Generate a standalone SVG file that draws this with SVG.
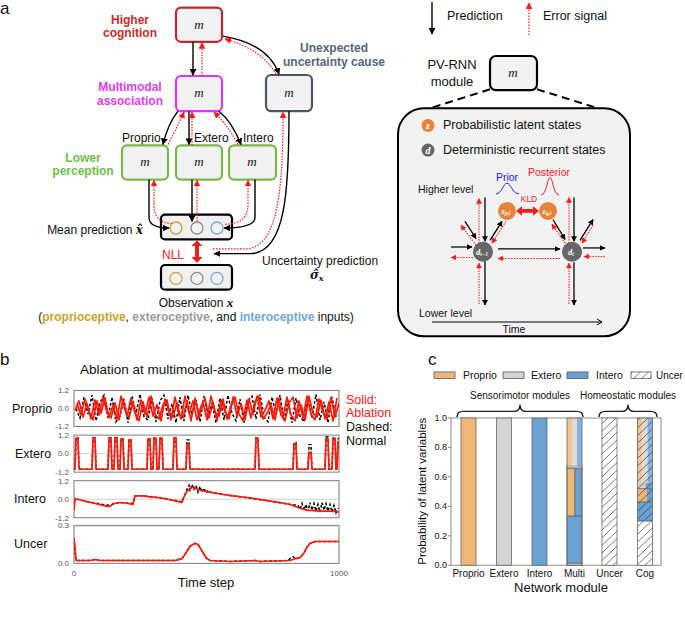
<svg xmlns="http://www.w3.org/2000/svg" width="685" height="624" viewBox="0 0 685 624">
<style>
text{font-family:"Liberation Sans",Arial,sans-serif;fill:#111}
.t12{font-size:12px}
.t11{font-size:10.5px}
.bold{font-weight:bold}
.m{font-family:"Liberation Serif","DejaVu Serif",serif;font-style:italic;font-size:13px;text-anchor:middle}
.mod{fill:#f2f2f2;stroke-width:2.2}
.pred{stroke:#000;stroke-width:1.4;fill:none;marker-end:url(#ah)}
.err{stroke:#ff1a1a;stroke-width:1.2;stroke-dasharray:1.6 1.4;fill:none;marker-end:url(#ahr)}
.preds{stroke:#000;stroke-width:1.3;fill:none;marker-end:url(#ahs)}
.errs{stroke:#ff1a1a;stroke-width:1.1;stroke-dasharray:1.5 1.3;fill:none;marker-end:url(#ahrs)}
.frame{fill:#fff;stroke:#777;stroke-width:1}
.zero{stroke:#d0d0d0;stroke-width:1}
.tick{font-size:8px;fill:#555;text-anchor:end}
.red{fill:none;stroke:#ff1a0a;stroke-width:1.7;stroke-linejoin:round}
.blk{fill:none;stroke:#000;stroke-width:1.5;stroke-dasharray:3 2}
.bar{stroke:#666;stroke-width:0.8}
.pro{fill:#f0b677}
.ext{fill:#d3d3d3}
.int{fill:#6aa1d3}
.hat{fill:url(#hatch)}
.wz{font-family:"Liberation Serif",serif;font-style:italic;font-weight:bold;fill:#fff;text-anchor:middle}
</style>
<defs>
<marker id="ah" viewBox="0 0 10 10" refX="9" refY="5" markerWidth="7" markerHeight="7" markerUnits="userSpaceOnUse" orient="auto"><path d="M0,0 L10,5 L0,10 z" fill="#000"/></marker>
<marker id="ahr" viewBox="0 0 10 10" refX="9" refY="5" markerWidth="7" markerHeight="7" markerUnits="userSpaceOnUse" orient="auto"><path d="M0,0 L10,5 L0,10 z" fill="#ff1a1a"/></marker>
<marker id="ahs" viewBox="0 0 10 10" refX="9" refY="5" markerWidth="6" markerHeight="6" markerUnits="userSpaceOnUse" orient="auto"><path d="M0,0 L10,5 L0,10 z" fill="#000"/></marker>
<marker id="ahrs" viewBox="0 0 10 10" refX="9" refY="5" markerWidth="6" markerHeight="6" markerUnits="userSpaceOnUse" orient="auto"><path d="M0,0 L10,5 L0,10 z" fill="#ff1a1a"/></marker>
<pattern id="hatch" patternUnits="userSpaceOnUse" width="8" height="8"><path d="M0,8 L8,0 M-2,2 L2,-2 M6,10 L10,6" stroke="#333" stroke-width="0.7"/></pattern>
<clipPath id="c1"><rect x="74" y="411" width="265" height="38"/></clipPath>
<clipPath id="c2"><rect x="74" y="458" width="265" height="39"/></clipPath>
<clipPath id="c3"><rect x="74" y="506" width="265" height="39"/></clipPath>
<clipPath id="c4"><rect x="74" y="553" width="265" height="40"/></clipPath>
</defs>
<rect width="685" height="624" fill="#fff"/>

<!-- ================= Panel a ================= -->
<text x="0" y="14" style="font-size:17px">a</text>
<text x="130" y="23.8" text-anchor="middle" class="t12 bold" style="fill:#cc2b2b">Higher</text>
<text x="130" y="37" text-anchor="middle" class="t12 bold" style="fill:#cc2b2b">cognition</text>
<text x="130" y="91.2" text-anchor="middle" class="t12 bold" style="fill:#e03cf0">Multimodal</text>
<text x="130" y="104.5" text-anchor="middle" class="t12 bold" style="fill:#e03cf0">association</text>
<text x="83" y="161.5" text-anchor="middle" class="t12 bold" style="fill:#6cc04a">Lower</text>
<text x="83" y="174.8" text-anchor="middle" class="t12 bold" style="fill:#6cc04a">perception</text>
<text x="334" y="52.3" text-anchor="middle" class="t12 bold" style="fill:#56657b">Unexpected</text>
<text x="334" y="65.6" text-anchor="middle" class="t12 bold" style="fill:#56657b">uncertainty cause</text>
<text x="122" y="141.6" class="t12">Proprio</text>
<text x="194" y="141.6" class="t12">Extero</text>
<text x="243" y="141.6" class="t12">Intero</text>

<g id="higher"><rect x="176" y="7.6" width="46" height="34.2" rx="5" class="mod" stroke="#c0282d"/><text x="199" y="28.5" class="m">m</text></g>
<g id="multi"><rect x="176" y="76" width="46" height="35.2" rx="5" class="mod" stroke="#dd33ff"/><text x="199" y="97.1" class="m">m</text></g>
<g id="uncert"><rect x="266" y="75" width="46" height="36.1" rx="5" class="mod" stroke="#4a5568"/><text x="289" y="96.6" class="m">m</text></g>
<g id="proprio"><rect x="122" y="145.4" width="46" height="34.2" rx="5" class="mod" stroke="#7ab648"/><text x="145" y="166" class="m">m</text></g>
<g id="extero"><rect x="176" y="145.4" width="46" height="34.2" rx="5" class="mod" stroke="#7ab648"/><text x="199" y="166" class="m">m</text></g>
<g id="intero"><rect x="229" y="145.4" width="47" height="34.2" rx="5" class="mod" stroke="#7ab648"/><text x="252" y="166" class="m">m</text></g>

<g id="meanpred">
<rect x="161" y="214.7" width="71" height="24.7" rx="4" fill="#f0f0f0" stroke="#000" stroke-width="2.2"/>
<circle cx="176" cy="228" r="6" fill="#f2f2f2" stroke="#c9a03a" stroke-width="1.3"/>
<circle cx="197" cy="228" r="6" fill="#f2f2f2" stroke="#8a8a8a" stroke-width="1.3"/>
<circle cx="217" cy="228" r="6" fill="#f2f2f2" stroke="#6fa8dc" stroke-width="1.3"/>
<text x="143" y="233.7" text-anchor="end" class="t12">Mean prediction <tspan style="font-family:'DejaVu Serif',serif;font-style:italic;font-weight:bold">x&#770;</tspan></text>
</g>
<g id="observation">
<rect x="161" y="265" width="71" height="24.7" rx="4" fill="#f0f0f0" stroke="#000" stroke-width="2.2"/>
<circle cx="176" cy="278.4" r="6" fill="#f2f2f2" stroke="#c9a03a" stroke-width="1.3"/>
<circle cx="197" cy="278.4" r="6" fill="#f2f2f2" stroke="#8a8a8a" stroke-width="1.3"/>
<circle cx="217" cy="278.4" r="6" fill="#f2f2f2" stroke="#6fa8dc" stroke-width="1.3"/>
<text x="196" y="306.9" text-anchor="middle" class="t12">Observation <tspan style="font-family:'Liberation Serif',serif;font-style:italic;font-weight:bold;font-size:13px">x</tspan></text>
<text x="196" y="321.1" text-anchor="middle" class="t12">(<tspan class="bold" style="fill:#c9a227">proprioceptive</tspan>, <tspan class="bold" style="fill:#9a9a9a">exteroceptive</tspan>, and <tspan class="bold" style="fill:#6ea6e0">interoceptive</tspan> inputs)</text>
</g>
<text x="184" y="259.4" text-anchor="end" class="t12" style="fill:#ff1a1a">NLL</text>
<path d="M197,240.5 L202.5,246 L199,246 L199,257 L202.5,257 L197,263 L191.5,257 L195,257 L195,246 L191.5,246 Z" fill="#ff1a1a"/>
<text x="262" y="265" class="t12">Uncertainty prediction</text>
<text x="310" y="279.3" style="font-family:'DejaVu Serif',serif;font-style:italic;font-weight:bold;font-size:12px">σ&#770;<tspan dy="2" style="font-size:8px">x</tspan></text>

<g id="connectors" transform="scale(1,0.95)">
<path class="pred" d="M193,44 L193,79"/>
<path class="err" d="M202,80 L202,45"/>
<path class="pred" d="M223,38 Q268,46 279,78"/>
<path class="err" d="M276,78 Q262,52 225,41"/>
<path class="pred" d="M178,117 Q168,130 163,152"/>
<path class="err" d="M168,152 Q177,134 184,118"/>
<path class="pred" d="M189,117 L189,152"/>
<path class="err" d="M192,153 L192,118"/>
<path class="pred" d="M219,117 Q232,128 241,152"/>
<path class="err" d="M238,152 Q228,132 214,118"/>
<path class="pred" d="M149,189 L149,229 Q149,240 169,240"/>
<path class="err" d="M172,235 Q154,235 154,215 L154,190"/>
<path class="pred" d="M192,189 L192,233"/>
<path class="err" d="M197,233 L197,190"/>
<path class="pred" d="M255,189 L255,229 Q255,240 224,240"/>
<path class="err" d="M225,236 Q248,236 248,215 L248,190"/>
<path class="pred" d="M289,117 C289,200 286,267 250,267 L214,267"/>
<path class="err" d="M213,262 L245,262 C278,262 283,200 283,118"/>
</g>

<!-- Legend -->
<path class="pred" d="M432,2 L432,34"/>
<text x="447" y="20" style="font-size:12.5px">Prediction</text>
<path class="err" d="M529,35 L529,3"/>
<text x="543" y="20" style="font-size:12.5px">Error signal</text>

<!-- PV-RNN module detail -->
<text x="452" y="69.4" text-anchor="middle" style="font-size:13px">PV-RNN</text>
<text x="452" y="85.5" text-anchor="middle" style="font-size:13px">module</text>
<path d="M490,89.3 L418,112 M537,89.3 L610,112" stroke="#000" stroke-width="2" stroke-dasharray="8 5" fill="none"/>
<rect x="398" y="108.3" width="232" height="228" rx="26" fill="#f2f2f2" stroke="#000" stroke-width="2"/>
<g id="pvmodule"><rect x="490" y="56" width="47" height="34.2" rx="6" class="mod" stroke="#000"/><text x="513" y="76.7" class="m">m</text></g>

<circle cx="428" cy="125.4" r="6.5" fill="#e8843a"/>
<text x="428" y="128.9" class="wz" style="font-size:10px">z</text>
<text x="443" y="129.2" style="font-size:12.5px">Probabilistic latent states</text>
<circle cx="428" cy="150.1" r="6.5" fill="#666"/>
<text x="428" y="153.6" class="wz" style="font-size:10px">d</text>
<text x="443" y="153.9" style="font-size:12.5px">Deterministic recurrent states</text>
<text x="507" y="180.5" text-anchor="middle" style="font-size:10.5px;fill:#1a1aff">Prior</text>
<text x="549" y="175.8" text-anchor="middle" style="font-size:10.5px;fill:#ff1a1a">Posterior</text>
<text x="418" y="192.9" style="font-size:10.5px">Higher level</text>
<text x="529" y="202.4" text-anchor="middle" style="font-size:8.5px;fill:#ff1a1a">KLD</text>

<g transform="scale(1,0.95)">
<path d="M496,204 C502,204 503,193 507,193 C511,193 512,204 519,204" fill="none" stroke="#1a1aff" stroke-width="1"/>
<path d="M541,205 C547,205 547,187 550,187 C553,187 553,205 559,205" fill="none" stroke="#ff1a1a" stroke-width="1"/>
<path d="M516,222 L522,217 L522,220 L533,220 L533,217 L539,222 L533,227 L533,224 L522,224 L522,227 Z" fill="#ff1a1a"/>
</g>

<g id="zp"><circle cx="507" cy="210.9" r="9" fill="#e8843a"/><text x="506" y="213.9" class="wz" style="font-size:8px">z<tspan dy="1.5" style="font-size:5.5px">p,t</tspan></text></g>
<g id="zq"><circle cx="548" cy="210.9" r="9" fill="#e8843a"/><text x="547" y="213.9" class="wz" style="font-size:8px">z<tspan dy="1.5" style="font-size:5.5px">q,t</tspan></text></g>
<g id="dt1"><circle cx="483" cy="251.8" r="10" fill="#666"/><text x="482" y="254.8" class="wz" style="font-size:8.5px">d<tspan dy="1.5" style="font-size:5.5px">t−1</tspan></text></g>
<g id="dt"><circle cx="572" cy="251.8" r="10" fill="#666"/><text x="571" y="254.8" class="wz" style="font-size:8.5px">d<tspan dy="1.5" style="font-size:5.5px">t</tspan></text></g>

<g id="module-connectors" transform="scale(1,0.95)">
<path class="preds" d="M485,208 L485,254"/>
<path class="preds" d="M485,275 L485,321"/>
<path class="preds" d="M451,260 L472,260"/>
<path class="preds" d="M465,233 L476,251"/>
<path class="preds" d="M490,253 L502,233"/>
<path class="preds" d="M498,262 L560,262"/>
<path class="preds" d="M553,231 L565,252"/>
<path class="preds" d="M574,208 L574,254"/>
<path class="preds" d="M574,276 L574,321"/>
<path class="preds" d="M583,261 L605,261"/>
<path class="preds" d="M580,253 L593,231"/>
<path class="errs" d="M479,256 L479,209"/>
<path class="errs" d="M479,320 L479,277"/>
<path class="errs" d="M473,271 L451,271"/>
<path class="errs" d="M476,258 L461,237"/>
<path class="errs" d="M506,233 L492,256"/>
<path class="errs" d="M560,272 L498,272"/>
<path class="errs" d="M565,256 L552,236"/>
<path class="errs" d="M569,256 L569,208"/>
<path class="errs" d="M569,320 L569,277"/>
<path class="errs" d="M605,270 L584,270"/>
<path class="errs" d="M593,237 L582,256"/>
</g>
<text x="419" y="317.3" style="font-size:10.5px">Lower level</text>
<path d="M432,322 L602,322 M597,319 L602,322 L597,325" fill="none" stroke="#000" stroke-width="1"/>
<text x="514" y="332.5" text-anchor="middle" style="font-size:10.5px">Time</text>

<!-- ================= Panel b ================= -->
<text x="0" y="364.8" style="font-size:17px">b</text>
<text x="206" y="374.3" text-anchor="middle" style="font-size:13.5px">Ablation at multimodal-associative module</text>

<g transform="scale(1,0.95)">
<rect x="74" y="411" width="265" height="38" class="frame"/>
<rect x="74" y="458" width="265" height="39" class="frame"/>
<rect x="74" y="506" width="265" height="39" class="frame"/>
<rect x="74" y="553" width="265" height="40" class="frame"/>
<line x1="74" y1="430" x2="339" y2="430" class="zero"/>
<line x1="74" y1="477.5" x2="339" y2="477.5" class="zero"/>
<line x1="74" y1="525.5" x2="339" y2="525.5" class="zero"/>
<line x1="74" y1="554" x2="339" y2="554" class="zero"/>
<g clip-path="url(#c1)">
<polyline class="blk" points="76,430 80,440 84,418 88,436 92,416 96,443 100,424 104,416 108,440 112,418 116,444 120,438 124,420 128,445 132,417 136,435 140,415 144,439 148,442 152,419 156,444 160,422 164,416 168,441 172,425 176,445 180,418 184,443 188,416 192,437 196,421 200,444 204,417 208,440 212,424 216,445 220,419 224,442 228,416 232,435 236,443 240,420 244,445 248,422 252,417 256,441 260,415 264,439 268,444 272,418 276,436 280,416 284,443 288,421 292,445 296,419 300,438 304,444 308,417 312,440 316,415 320,442 324,423 328,445 332,418 336,439"/>
<polyline class="red" points="75,432 79,422 83,439 87,425 91,441 95,421 99,437 103,418 107,434 111,440 115,424 119,442 123,420 127,438 131,419 135,435 139,443 143,423 147,439 151,417 155,436 159,441 163,426 167,421 171,442 175,418 179,437 183,440 187,422 191,443 195,419 199,439 203,424 207,442 211,417 215,434 219,438 223,420 227,441 231,427 235,418 239,436 243,443 247,421 251,440 255,423 259,417 263,441 267,435 271,426 275,442 279,419 283,439 287,418 291,437 295,443 299,422 303,440 307,417 311,436 315,442 319,420 323,434 327,441 331,418 335,439 339,424"/>
<polyline class="red" points="77,425 81,437 85,420 89,433 93,442 97,422 101,435 105,419 109,439 113,427 117,441 121,417 125,432 129,440 133,423 137,442 141,421 145,436 149,418 153,438 157,426 161,443 165,420 169,434 173,439 177,424 181,441 185,417 189,435 193,422 197,442 201,428 205,419 209,440 213,423 217,443 221,421 225,433 229,441 233,418 237,438 241,425 245,442 249,420 253,436 257,417 261,439 265,432 269,422 273,441 277,419 281,437 285,443 289,424 293,418 297,440 301,426 305,442 309,417 313,435 317,439 321,421 325,441 329,423 333,443 337,419"/>
</g>
<g clip-path="url(#c2)">
<polyline class="blk" points="74,494 75,494 76,461 78,461 79,494 92,494 93,461 95,461 96,494 108,494 109,461 111,461 112,494 114,494 115,461 117,461 118,494 120,494 121,462 123,462 124,494 128,494 129,463 131,463 132,494 147,494 148,462 150,462 151,494 153,494 154,461 156,461 157,494 159,494 160,461 162,461 163,494 173,494 174,461 176,461 177,494 186,494 187,463 189,463 190,494 255,494 256,461 258,461 259,494 293,494 294,466 296,466 297,494 308,494 309,468 311,468 312,494 325,494 326,460 328,460 329,494 332,494 333,461 335,461 336,494 337,494 338,462 339,462"/>
<polyline class="red" points="74,494 75,494 76,461 78,461 79,494 92,494 93,461 95,461 96,494 108,494 109,461 111,461 112,494 114,494 115,461 117,461 118,494 120,494 121,462 123,462 124,494 128,494 129,463 131,463 132,494 147,494 148,462 150,462 151,494 153,494 154,461 156,461 157,494 159,494 160,461 162,461 163,494 173,494 174,461 176,461 177,494 186,494 187,468 189,468 190,494 255,494 256,461 258,461 259,494 293,494 294,468 296,468 297,494 308,494 309,476 311,476 312,494 325,494 326,462 328,462 329,494 332,494 333,461 335,461 336,494 337,494 338,465 339,465"/>
</g>
<g clip-path="url(#c3)">
<polyline class="blk" points="74,533 75,525 87,528 103,531 110,532 115,530 120,529 133,530 135,522 143,522 160,524 182,528 184,523 187,515 189,511 190,517 192,510 194,515 196,511 198,518 200,512 202,518 204,514 206,519 208,516 210,518 233,522 267,527 290,531 298,532 300,536 302,530 304,537 306,531 308,538 310,529 312,537 314,530 316,538 318,531 320,539 322,529 324,537 326,530 328,538 330,531 332,539 334,532 336,540 338,535"/>
<polyline class="red" points="74,537 75,525 80,526 87,528 95,530 103,532 107,533 110,533 113,530 115,530 120,529 128,530 133,531 135,522 143,522 150,523 160,524 170,526 182,529 183,525 187,517 190,514 193,513 197,515 200,516 210,518 220,520 233,522 250,524 267,527 280,529 290,531 300,535 307,537 320,538 330,538 339,539"/>
</g>
<g clip-path="url(#c4)">
<polyline class="blk" points="74,566 76,590 90,590 95,589 100,590 110,590 120,590 140,590 160,590 175,590 182,588 186,582 190,575 195,572 198,573 202,580 206,587 210,590 230,591 255,590 260,591 288,590 291,587 293,586 296,588 300,587 304,582 307,576 310,572 315,570 339,570"/>
<polyline class="red" points="74,566 76,590 90,590 95,589 100,590 110,590 120,590 140,590 160,590 175,590 182,588 186,582 190,575 195,572 198,573 202,580 206,587 210,590 230,591 255,590 260,591 290,590 296,588 300,587 304,582 307,576 310,572 315,570 339,570"/>
</g>
</g>

<text x="69" y="393.3" class="tick">1.2</text><text x="69" y="411.4" class="tick">0.0</text><text x="69" y="429.4" class="tick">-1.2</text>
<text x="69" y="438" class="tick">1.2</text><text x="69" y="456" class="tick">0.0</text><text x="69" y="475" class="tick">-1.2</text>
<text x="69" y="483.6" class="tick">1.2</text><text x="69" y="501.6" class="tick">0.0</text><text x="69" y="520.6" class="tick">-1.2</text>
<text x="69" y="528.2" class="tick">0.3</text><text x="69" y="566.2" class="tick">0.0</text>
<text x="74" y="575.7" text-anchor="middle" style="font-size:8px;fill:#555">0</text>
<text x="339" y="575.7" text-anchor="middle" style="font-size:8px;fill:#555">1000</text>
<text x="206" y="587.1" text-anchor="middle" style="font-size:13px">Time step</text>
<text x="12" y="413.3" style="font-size:12.5px">Proprio</text>
<text x="15" y="457.9" style="font-size:12.5px">Extero</text>
<text x="14" y="502.6" style="font-size:12.5px">Intero</text>
<text x="14" y="548.2" style="font-size:12.5px">Uncer</text>
<text x="346" y="403.8" style="font-size:12.5px;fill:#ff1a1a">Solid:</text>
<text x="346" y="417" style="font-size:12.5px;fill:#ff1a1a">Ablation</text>
<text x="346" y="431.3" style="font-size:12.5px">Dashed:</text>
<text x="346" y="444.6" style="font-size:12.5px">Normal</text>

<!-- ================= Panel c ================= -->
<text x="428" y="364.8" style="font-size:17px">c</text>
<text x="463" y="379" class="t11">Proprio</text>
<text x="531" y="379" class="t11">Extero</text>
<text x="596" y="379" class="t11">Intero</text>
<text x="656" y="379" style="font-size:10px">Uncer</text>
<text x="520" y="399" text-anchor="middle" style="font-size:10px">Sensorimotor modules</text>
<text x="628" y="399" text-anchor="middle" style="font-size:10px">Homeostatic modules</text>

<g transform="scale(1,0.95)">
<rect x="434" y="391.5" width="21" height="7" class="pro" stroke="#555" stroke-width="0.8"/>
<rect x="503" y="391.5" width="21" height="7" class="ext" stroke="#555" stroke-width="0.8"/>
<rect x="567" y="391.5" width="21" height="7" class="int" stroke="#555" stroke-width="0.8"/>
<rect x="631" y="391.5" width="20" height="7" fill="#fff" stroke="#555" stroke-width="0.8"/>
<rect x="631" y="391.5" width="20" height="7" class="hat"/>
<path d="M457,439 Q457,433 463,433 L514,433 Q520,433 520,426 Q520,433 526,433 L577,433 Q583,433 583,439" fill="none" stroke="#222" stroke-width="1.5"/>
<path d="M599,439 Q599,433 605,433 L622,433 Q628,433 628,426 Q628,433 634,433 L651,433 Q657,433 657,439" fill="none" stroke="#222" stroke-width="1.5"/>
<rect x="451" y="440" width="210" height="155" fill="#fff" stroke="#888" stroke-width="1"/>
<path d="M448,595 H451 M448,564 H451 M448,533 H451 M448,502 H451 M448,471 H451 M448,440 H451" stroke="#888" stroke-width="1"/>
<g id="bars">
<rect x="461" y="440" width="15" height="155" class="pro bar"/>
<rect x="496.5" y="440" width="15" height="155" class="ext bar"/>
<rect x="532" y="440" width="15" height="155" class="int bar"/>
<rect x="567" y="592.7" width="15" height="2.3" class="ext bar"/>
<rect x="567" y="543.1" width="15" height="49.6" class="int bar"/>
<rect x="567" y="492.7" width="8" height="50.4" class="pro bar"/>
<rect x="575" y="492.7" width="7" height="50.4" class="int bar"/>
<rect x="567" y="490.4" width="15" height="2.3" class="ext bar"/>
<g opacity="0.8">
<rect x="567" y="440" width="5" height="50.4" class="pro"/>
<rect x="572" y="440" width="5" height="50.4" class="ext"/>
<rect x="577" y="440" width="5" height="50.4" class="int"/>
</g>
<rect x="567" y="440" width="15" height="155" fill="none" class="bar"/>
<rect x="602" y="440" width="15" height="155" fill="#fff" class="bar"/>
<rect x="602" y="440" width="15" height="155" class="hat"/>
<rect x="637.5" y="548.5" width="15" height="46.5" fill="#fff"/>
<rect x="637.5" y="528.4" width="15" height="20.1" class="int"/>
<rect x="637.5" y="514.4" width="9.5" height="14" class="pro"/>
<rect x="647" y="514.4" width="5.5" height="14" class="int"/>
<rect x="637.5" y="508.2" width="8" height="6.2" class="ext"/>
<rect x="645.5" y="508.2" width="7" height="6.2" class="int"/>
<g opacity="0.8">
<rect x="637.5" y="440" width="5" height="68.2" class="pro"/>
<rect x="642.5" y="440" width="5" height="68.2" class="ext"/>
<rect x="647.5" y="440" width="5" height="68.2" class="int"/>
</g>
<rect x="637.5" y="440" width="15" height="155" class="hat"/>
<path d="M637.5,548.5 H652.5 M637.5,528.4 H652.5 M637.5,514.4 H652.5" stroke="#555" stroke-width="0.8"/>
<rect x="637.5" y="440" width="15" height="155" fill="none" class="bar"/>
</g>
</g>

<g style="font-size:9px;fill:#444" text-anchor="end">
<text x="447" y="568.1">0.0</text><text x="447" y="538.7">0.2</text><text x="447" y="509.2">0.4</text><text x="447" y="479.8">0.6</text><text x="447" y="450.3">0.8</text><text x="447" y="420.9">1.0</text>
</g>
<text transform="translate(426,491.2) rotate(-90)" text-anchor="middle" style="font-size:11.5px">Probability of latent variables</text>
<g style="font-size:10px" text-anchor="middle">
<text x="468.5" y="576.7">Proprio</text><text x="504" y="576.7">Extero</text><text x="539.5" y="576.7">Intero</text><text x="574.5" y="576.7">Multi</text><text x="609.5" y="576.7">Uncer</text><text x="645" y="576.7">Cog</text>
</g>
<text x="561" y="591.9" text-anchor="middle" style="font-size:13px">Network module</text>
</svg>
